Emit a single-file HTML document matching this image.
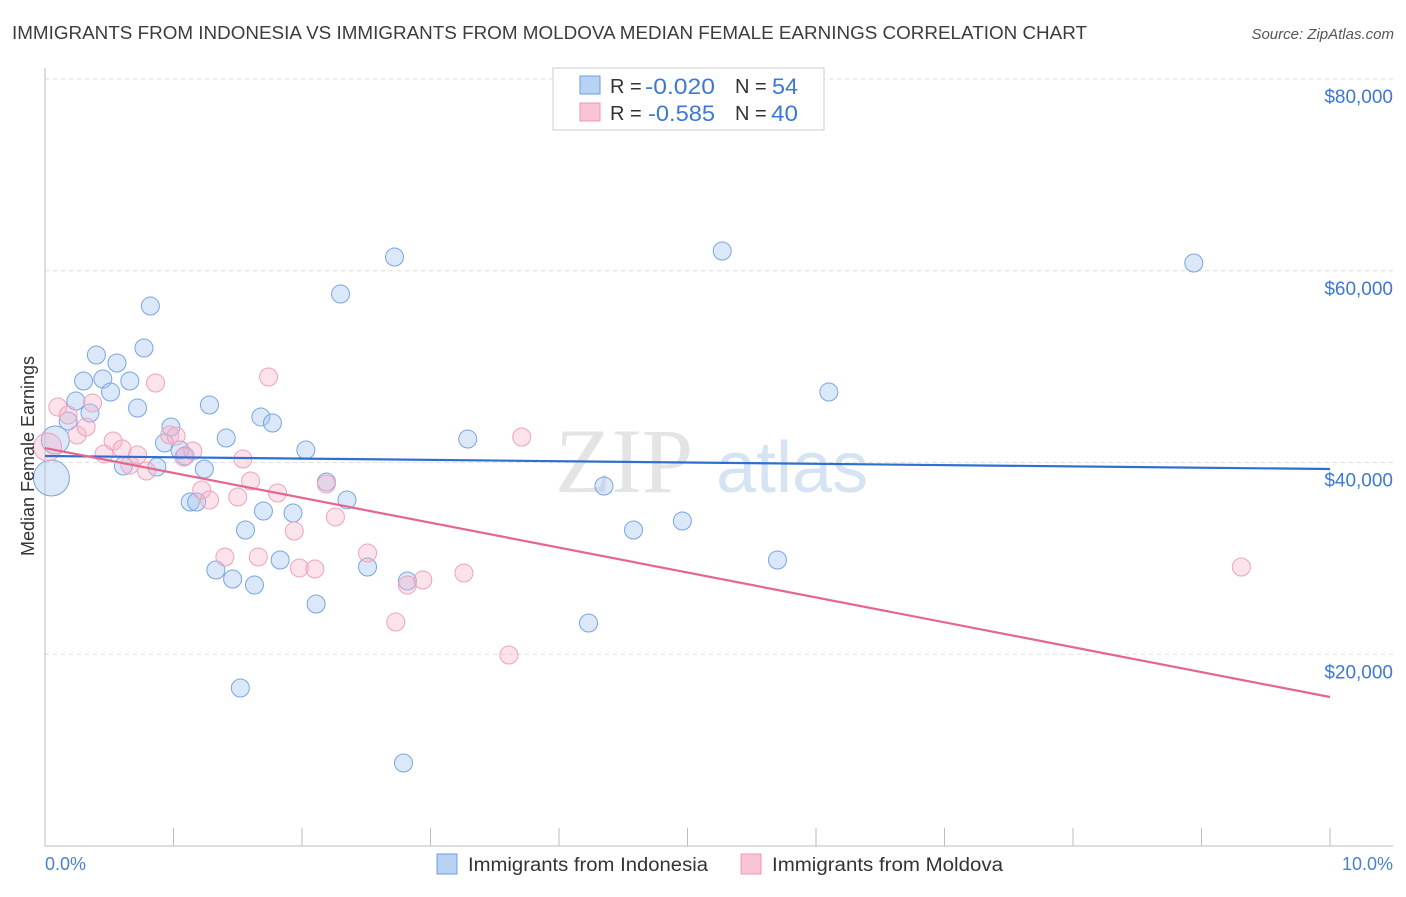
<!DOCTYPE html>
<html><head><meta charset="utf-8"><style>
body{margin:0;background:#fff;font-family:"Liberation Sans",sans-serif;}
</style></head><body>
<svg id="chart" width="1406" height="892" xmlns="http://www.w3.org/2000/svg" font-family="Liberation Sans, sans-serif">
<text x="12" y="39" font-size="18" fill="#3c3c3c" textLength="1075" lengthAdjust="spacingAndGlyphs">IMMIGRANTS FROM INDONESIA VS IMMIGRANTS FROM MOLDOVA MEDIAN FEMALE EARNINGS CORRELATION CHART</text>
<text x="1394" y="39" font-size="15" fill="#555" text-anchor="end" font-style="italic">Source: ZipAtlas.com</text>
<text x="555" y="492" font-size="92" fill="#e4e4e4" font-family="Liberation Serif, serif">ZIP</text>
<text x="716" y="492" font-size="72" fill="#d5e3f3">atlas</text>
<g id="grid"></g>
<g id="axes"></g>
<g id="marks"></g>
<text transform="translate(34,456) rotate(-90)" font-size="18" fill="#333" text-anchor="middle">Median Female Earnings</text>
<text x="45" y="870" font-size="18" fill="#4a7fd4">0.0%</text>
<text x="1393" y="870" font-size="18" fill="#4a7fd4" text-anchor="end">10.0%</text>
<g>
<rect x="553" y="68" width="271" height="62" fill="#fff" stroke="#ccc"/>
<rect x="580" y="76" width="20" height="18" fill="#b8d2f4" stroke="#6b9ce0"/>
<rect x="580" y="103" width="20" height="18" fill="#f9c4d4" stroke="#ec9ab4"/>
<text x="610" y="93" font-size="20" fill="#333">R =</text>
<text x="645" y="94" font-size="22" fill="#3c78d8" textLength="70" lengthAdjust="spacingAndGlyphs">-0.020</text>
<text x="735" y="93" font-size="20" fill="#333">N =</text>
<text x="772" y="94" font-size="22" fill="#3c78d8" textLength="26" lengthAdjust="spacingAndGlyphs">54</text>
<text x="610" y="120" font-size="20" fill="#333">R =</text>
<text x="648" y="121" font-size="22" fill="#3c78d8" textLength="67" lengthAdjust="spacingAndGlyphs">-0.585</text>
<text x="735" y="120" font-size="20" fill="#333">N =</text>
<text x="771" y="121" font-size="22" fill="#3c78d8" textLength="27" lengthAdjust="spacingAndGlyphs">40</text>
</g>
<g>
<rect x="437" y="854" width="20" height="20" fill="#b8d2f4" stroke="#6b9ce0"/>
<text x="468" y="871" font-size="19" fill="#333" textLength="240" lengthAdjust="spacingAndGlyphs">Immigrants from Indonesia</text>
<rect x="741" y="854" width="20" height="20" fill="#f9c4d4" stroke="#ec9ab4"/>
<text x="772" y="871" font-size="19" fill="#333" textLength="231" lengthAdjust="spacingAndGlyphs">Immigrants from Moldova</text>
</g>
</svg>
<script>
const yTicks=[20000,40000,60000,80000];
const yTickLabels=["$20,000","$40,000","$60,000","$80,000"];
const blueX=[0.05,0.08,0.18,0.24,0.30,0.35,0.40,0.45,0.51,0.56,0.66,0.72,0.77,0.82,0.61,0.87,0.93,0.98,1.05,1.09,1.13,1.18,1.24,1.28,1.33,1.41,1.46,1.52,1.56,1.63,1.68,1.70,1.77,1.83,1.93,2.03,2.11,2.19,2.30,2.35,2.51,2.72,2.79,2.82,3.29,4.23,4.35,4.58,4.96,5.27,5.70,6.10,8.94];
const blueY=[38380,42350,44330,46410,48500,45160,51210,48710,47350,50380,48500,45680,51940,56320,39630,39530,42030,43700,41300,40680,35880,35880,39320,46000,28790,42550,27850,16480,32960,27220,44750,34940,44120,29830,34730,41300,25240,37970,57570,36090,29100,61430,8660,27640,42450,23260,37550,32960,33900,62060,29830,47350,60810];
const blueR=[18,14];
const pinkX=[0.02,0.10,0.18,0.25,0.32,0.37,0.46,0.53,0.60,0.66,0.72,0.79,0.86,0.97,1.02,1.08,1.15,1.22,1.28,1.40,1.50,1.54,1.60,1.66,1.74,1.81,1.94,1.98,2.10,2.19,2.26,2.51,2.73,2.82,2.94,3.26,3.61,3.71,9.31];
const pinkY=[41620,45790,44950,42870,43700,46200,40890,42240,41410,39740,40780,39110,48290,42870,42760,40570,41200,37130,36090,30140,36400,40360,38070,30140,48920,36820,32850,29000,28890,37760,34320,30560,23360,27220,27740,28470,19920,42660,29100];
const pinkR=[14];
const blueTrend=[40680,39320];
const pinkTrend=[41510,15540];
const NS="http://www.w3.org/2000/svg";
const xs=v=>45+v/10*1285;
const ys=v=>846-v/20000*191.75;
function mk(tag,attrs,parent){const e=document.createElementNS(NS,tag);for(const k in attrs)e.setAttribute(k,attrs[k]);document.getElementById(parent).appendChild(e);return e;}
yTicks.forEach((t,i)=>{
 const l=mk('line',{x1:45,x2:1393,y1:ys(t),y2:ys(t),stroke:'#ddd','stroke-dasharray':'4,4'},'grid');
 
 
 const tx=mk('text',{x:1393,y:ys(t)+24,'font-size':19,fill:'#3c78d8','text-anchor':'end'},'grid');
 tx.textContent=yTickLabels[i];
 
 
});
const ax=mk('line',{x1:45,x2:45,y1:68,y2:846,stroke:'#bbb'},'axes');


const bx=mk('line',{x1:45,x2:1393,y1:846,y2:846,stroke:'#bbb'},'axes');


for(let i=0;i<=10;i++){
 const tk=mk('line',{x1:xs(i),x2:xs(i),y1:828,y2:846,stroke:'#bbb'},'axes');
 
 
}
blueX.forEach((x,i)=>{
 const c=mk('circle',{cx:xs(x),cy:ys(blueY[i]),r:blueR[i]||9,fill:'rgba(165,198,240,0.4)',stroke:'#78a5e2','stroke-width':1},'marks');
 
 
});
pinkX.forEach((x,i)=>{
 const c=mk('circle',{cx:xs(x),cy:ys(pinkY[i]),r:pinkR[i]||9,fill:'rgba(245,180,202,0.38)',stroke:'#eea3bb','stroke-width':1},'marks');
 
 
});
const bl=mk('line',{x1:xs(0),x2:xs(10),y1:ys(blueTrend[0]),y2:ys(blueTrend[1]),stroke:'#2f6fd0','stroke-width':2.2},'marks');


const pl=mk('line',{x1:xs(0),x2:xs(10),y1:ys(pinkTrend[0]),y2:ys(pinkTrend[1]),stroke:'#e4668f','stroke-width':2.2},'marks');


</script>
</body></html>
